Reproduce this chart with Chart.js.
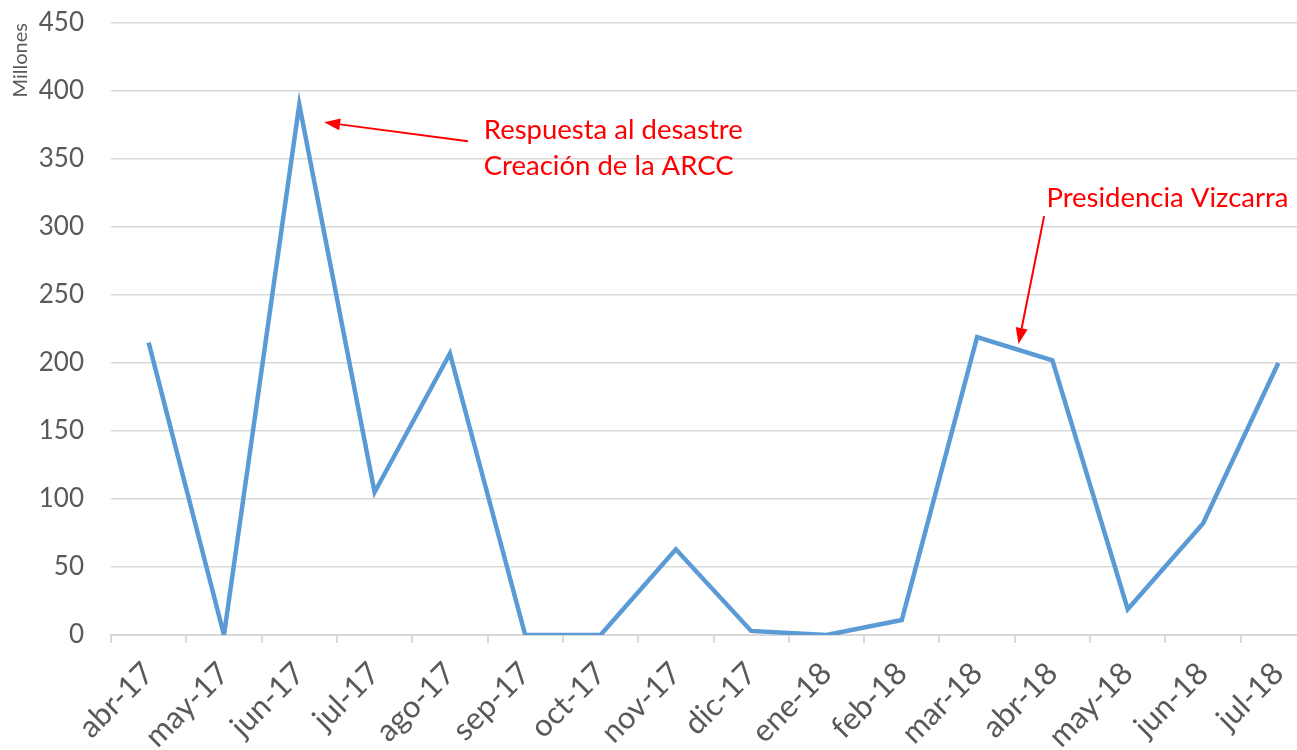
<!DOCTYPE html>
<html>
<head>
<meta charset="utf-8">
<script src="https://cdn.jsdelivr.net/npm/chart.js@4"></script>
<style>
  html, body { margin: 0; padding: 0; background: #fff; overflow: hidden; }
  #wrap { width: 1322px; height: 750px; }
</style>
</head>
<body>
<div id="wrap"><canvas id="montoChart"></canvas></div>
<script>
// Monthly amounts (millones), abr-17 to jul-18
const months = ['abr-17', 'may-17', 'jun-17', 'jul-17', 'ago-17', 'sep-17', 'oct-17', 'nov-17',
                'dic-17', 'ene-18', 'feb-18', 'mar-18', 'abr-18', 'may-18', 'jun-18', 'jul-18'];
const amounts = [215, 0, 390, 105, 207, 0, 0, 63, 3, 0, 11, 219, 202, 19, 82, 200];
const yTicks = [0, 50, 100, 150, 200, 250, 300, 350, 400, 450];

// Annotations in data coordinates (category index, value)
const notes = [
    { lines: ['Respuesta al desastre', 'Creación de la ARCC'], text: [4.45, 371], from: [4.24, 363], to: [2.33, 377] },
    { lines: ['Presidencia Vizcarra'], text: [11.92, 321], from: [11.89, 308], to: [11.55, 214] }
];

const FONT = "Lato, 'Open Sans', sans-serif";

const arrowPlugin = {
    id: 'arrows',
    afterDatasetsDraw(chart) {
        const ctx = chart.ctx;
        const xs = chart.scales.x, ys = chart.scales.y;
        ctx.save();
        ctx.strokeStyle = '#FF0000';
        ctx.fillStyle = '#FF0000';
        ctx.lineWidth = 2;
        notes.forEach(n => {
            const x1 = xs.getPixelForValue(n.from[0]), y1 = ys.getPixelForValue(n.from[1]);
            const x2 = xs.getPixelForValue(n.to[0]), y2 = ys.getPixelForValue(n.to[1]);
            const ang = Math.atan2(y2 - y1, x2 - x1);
            const head = 16, half = 6;
            const bx = x2 - head * Math.cos(ang), by = y2 - head * Math.sin(ang);
            ctx.beginPath();
            ctx.moveTo(x1, y1);
            ctx.lineTo(bx, by);
            ctx.stroke();
            ctx.beginPath();
            ctx.moveTo(x2, y2);
            ctx.lineTo(bx + half * Math.sin(ang), by - half * Math.cos(ang));
            ctx.lineTo(bx - half * Math.sin(ang), by + half * Math.cos(ang));
            ctx.closePath();
            ctx.fill();

            ctx.font = '27.5px ' + FONT;
            ctx.textAlign = 'left';
            ctx.textBaseline = 'middle';
            const tx = xs.getPixelForValue(n.text[0]);
            const ty = ys.getPixelForValue(n.text[1]);
            n.lines.forEach((line, i) => ctx.fillText(line, tx, ty + i * 36));
        });
        ctx.restore();
    }
};

new Chart(document.getElementById('montoChart'), {
    type: 'line',
    data: {
        labels: months,
        datasets: [{
            data: amounts,
            borderColor: '#5B9BD5',
            borderWidth: 4.5,
            pointRadius: 0,
            tension: 0,
            fill: false
        }]
    },
    options: {
        responsive: true,
        maintainAspectRatio: false,
        animation: false,
        layout: { padding: { top: 23, right: 6, left: 0, bottom: 0 } },
        plugins: {
            legend: { display: false },
            tooltip: { enabled: false }
        },
        scales: {
            x: {
                offset: true,
                grid: {
                    offset: true,
                    drawOnChartArea: false,
                    drawTicks: true,
                    tickLength: 8,
                    color: '#D9D9D9',
                    lineWidth: 2
                },
                border: { display: true, color: '#D9D9D9', width: 2 },
                ticks: {
                    autoSkip: false,
                    minRotation: 45,
                    maxRotation: 45,
                    padding: 12,
                    color: '#595959',
                    font: { family: FONT, size: 31 }
                },
                afterFit(scale) { scale.height = 115; }
            },
            y: {
                min: 0,
                max: 450,
                afterBuildTicks(scale) { scale.ticks = yTicks.map(v => ({ value: v })); },
                grid: {
                    color: '#D9D9D9',
                    lineWidth: 1.5,
                    drawTicks: false
                },
                border: { display: false },
                ticks: {
                    padding: 27,
                    color: '#595959',
                    font: { family: FONT, size: 26 }
                },
                title: {
                    display: true,
                    text: 'Millones',
                    align: 'end',
                    color: '#595959',
                    font: { family: FONT, size: 20 },
                    padding: { top: 9, bottom: 0 }
                },
                afterFit(scale) {
                    scale.width = 111;
                    scale.paddingTop = 0;
                    scale.paddingBottom = 0;
                }
            }
        }
    },
    plugins: [arrowPlugin]
});
</script>
</body>
</html>
